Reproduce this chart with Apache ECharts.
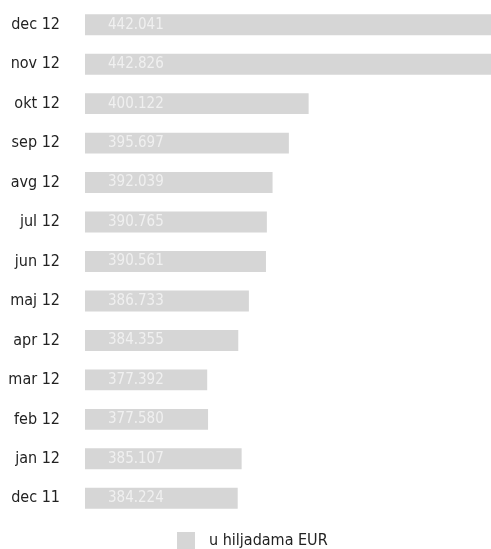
<!DOCTYPE html>
<html>
<head>
<meta charset="utf-8">
<script src="https://cdn.jsdelivr.net/npm/echarts@6/dist/echarts.min.js"></script>
<style>
  html, body { margin: 0; padding: 0; background: #fff; }
  #chart { width: 491px; height: 549px; }
</style>
</head>
<body>
<div id="chart"></div>
<script>
// Months, listed bottom to top as the category axis draws them
const months = ['dec 11', 'jan 12', 'feb 12', 'mar 12', 'apr 12', 'maj 12', 'jun 12',
                'jul 12', 'avg 12', 'sep 12', 'okt 12', 'nov 12', 'dec 12'];
// Amounts in thousands of EUR
const amounts = [384.224, 385.107, 377.580, 377.392, 384.355, 386.733, 390.561,
                 390.765, 392.039, 395.697, 400.122, 442.826, 442.041];
const seriesName = 'u hiljadama EUR';

const FONT = '"DejaVu Sans Condensed", "Liberation Sans Narrow", sans-serif';

const chart = echarts.init(document.getElementById('chart'), null, { renderer: 'canvas' });
chart.setOption({
  animation: false,
  grid: { left: 85, right: 0, top: 5, bottom: 31, containLabel: false },
  legend: {
    data: [seriesName],
    left: 172, top: 527,
    itemWidth: 18, itemHeight: 17, itemGap: 10,
    icon: 'rect',
    textStyle: { fontFamily: FONT, fontSize: 16, color: '#222', padding: [0, 0, 0, 9] }
  },
  xAxis: {
    type: 'value', min: 350, max: 441,
    show: false
  },
  yAxis: {
    type: 'category', data: months,
    axisLine: { show: false }, axisTick: { show: false },
    axisLabel: { margin: 25, fontFamily: FONT, fontSize: 16, color: '#222' }
  },
  series: [{
    name: seriesName,
    type: 'bar',
    data: amounts,
    barCategoryGap: '47%',
    itemStyle: { color: '#d6d6d6' },
    clip: true,
    label: {
      show: true, position: 'insideLeft', distance: 23,
      fontFamily: FONT, fontSize: 15, color: '#f0f0f0',
      formatter: p => p.value.toFixed(3)
    }
  }]
});
</script>
</body>
</html>
